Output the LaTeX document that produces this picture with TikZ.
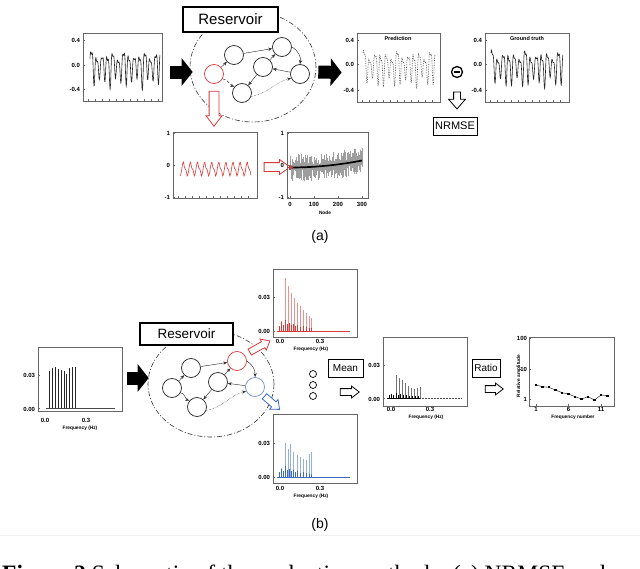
\documentclass[tikz,border=0pt]{standalone}
\usepackage{fontspec}
\setmainfont{Liberation Sans}
\newfontfamily\capfont{Liberation Serif}
\usetikzlibrary{shapes.geometric,shapes.arrows,arrows.meta,calc}
\definecolor{myred}{HTML}{D83A3A}
\definecolor{myblue}{HTML}{3D6BC4}
\definecolor{nodeblue}{HTML}{6F93D3}
\begin{document}
\begin{tikzpicture}[x=1pt,y=-1pt,
  frame/.style={draw=black!60, line width=0.6pt, fill=white, inner sep=0pt},
  tk/.style={font=\bfseries\fontsize{6}{6}\selectfont, anchor=east, inner sep=0.8pt},
  xt/.style={font=\bfseries\fontsize{6}{6}\selectfont, inner sep=0pt},
  axl/.style={font=\bfseries\fontsize{4.8}{5}\selectfont, inner sep=0pt},
  ttl/.style={font=\bfseries\fontsize{5.5}{6}\selectfont, inner sep=0pt},
  tline/.style={black!60, line width=0.4pt},
  neuron/.style={circle, draw=black!85, line width=0.75pt, minimum size=19pt, inner sep=0pt, fill=white},
  resbox/.style={draw, line width=1.3pt, fill=white, inner sep=0pt},
  resell/.style={ellipse, draw=black!80, line width=0.6pt, dash pattern=on 5pt off 2pt on 1pt off 2pt, inner sep=0pt},
  link/.style={-{Stealth[length=4pt,width=3.2pt]}, line width=0.45pt, black!80},
  bigarrow/.style={line width=13pt, -{Triangle[length=11pt,width=27pt]}},
  hollow/.style={single arrow, draw, line width=0.8pt, fill=white, inner xsep=0pt, single arrow head indent=0pt},
  lbox/.style={draw, line width=0.8pt, fill=white, inner sep=0pt},
]
\useasboundingbox (0,0) rectangle (640,568);

%% ================= (a) =================
% input plot
\node[frame, minimum width=79pt, minimum height=68pt] (inA) at (122.5,67) {};
\node[tk] at (81,40) {0.4};
\node[tk] at (81,65) {0.0};
\node[tk] at (81,89) {-0.4};
\foreach \y in {40,65,89} \draw[tline] (83,\y) -- ++(2,0);
\foreach \x in {88,95,...,158} \draw[tline] (\x,101) -- ++(0,-2);
\draw[line width=0.6pt, black!85] plot[domain=0:1, samples=300]
  ({90+70*\x}, {66-22*(0.7*sin(4700*\x)+0.3*sin(9400*\x+80)+0.15*sin(2300*\x+30))*(0.78+0.22*sin(1500*\x+40))});

% reservoir (a)
\node[resell, minimum width=126pt, minimum height=110pt] (resA) at (253,67) {};
\node[resbox, minimum width=95pt, minimum height=25pt, font=\fontsize{15}{15}\selectfont] (labA) at (230.5,19.5) {Reservoir};
\node[neuron, draw=myred] (rA) at (214,74) {};
\node[neuron] (n1) at (234,55) {};
\node[neuron] (n2) at (282,47) {};
\node[neuron] (n3) at (263,67) {};
\node[neuron] (n4) at (300,74) {};
\node[neuron] (n5) at (242,93) {};
\draw[link] (rA) -- (n1);
\draw[link] (n1) -- (n2);
\draw[link] (n2.east) to[bend left=35] (n4.north);
\draw[link] (n4) -- (n3);
\draw[link] (n3) -- (n2);
\draw[link, densely dashed] (rA.-30) to[out=0,in=160] (n5.140);
\draw[link] (n3) -- (n5);
\draw[link, densely dotted] (n5.-20) to[out=10,in=195] (n4.205);

\draw[bigarrow] ($(inA.east)+(8,5)$) -- ($(resA.west)+(3,5)$);

% prediction and ground truth
\node[frame, minimum width=83pt, minimum height=69pt] (predA) at (398.5,67.5) {};
\node[ttl] at (398,39) {Prediction};
\node[tk] at (355,40) {0.4};
\node[tk] at (355,64) {0.0};
\node[tk] at (355,90) {-0.4};
\foreach \y in {40,64,90} \draw[tline] (357,\y) -- ++(2,0);
\foreach \x in {362,369,...,436} \draw[tline] (\x,102) -- ++(0,-2);
\draw[line width=0.7pt, black!65, densely dotted] plot[domain=0:1, samples=300]
  ({363+72*\x}, {66-22*(0.7*sin(4700*\x+15)+0.3*sin(9400*\x+100)+0.15*sin(2300*\x+50))*(0.78+0.22*sin(1500*\x+90))});

\node[frame, minimum width=84pt, minimum height=69pt] (gtA) at (527,67.5) {};
\node[ttl] at (527,39) {Ground truth};
\node[tk] at (483,40) {0.4};
\node[tk] at (483,64) {0.0};
\node[tk] at (483,90) {-0.4};
\foreach \y in {40,64,90} \draw[tline] (485,\y) -- ++(2,0);
\foreach \x in {490,497,...,565} \draw[tline] (\x,102) -- ++(0,-2);
\draw[line width=0.6pt, black!85] plot[domain=0:1, samples=300]
  ({491+72*\x}, {66-22*(0.7*sin(4700*\x+15)+0.3*sin(9400*\x+100)+0.15*sin(2300*\x+50))*(0.78+0.22*sin(1500*\x+90))});

\draw[bigarrow] ($(resA.east)+(2,5)$) -- ($(predA.west)+(-15,5)$);

% minus, arrow, NRMSE
\node[circle, draw, line width=1.3pt, minimum size=11pt, inner sep=0pt] (minus) at (457,72) {};
\draw[line width=2.2pt] ($(minus.center)+(-3,0)$) -- ($(minus.center)+(3,0)$);
\node[lbox, minimum width=44pt, minimum height=18pt, font=\fontsize{11}{11}\selectfont] (nrmse) at (455,126) {NRMSE};
\node[hollow, minimum height=17pt, inner ysep=3pt, single arrow head extend=5pt, single arrow tip angle=82, rotate=-90] (darr) at (457,98.5) {};

% red down arrow
\node[hollow, draw=myred, minimum height=35pt, inner ysep=4.5pt, single arrow head extend=3pt, single arrow tip angle=74, rotate=-90] (rdown) at (214,105.5) {};

% red signal plot
\node[frame, minimum width=84pt, minimum height=66pt] (sigA) at (215,165) {};
\node[tk] at (171,133) {1};
\node[tk] at (171,165) {0};
\node[tk] at (171,197) {-1};
\foreach \y in {133,165,197} \draw[tline] (173,\y) -- ++(2,0);
\foreach \x in {178,185,...,252} \draw[tline] (\x,198) -- ++(0,-2);
\draw[myred, line width=0.6pt] plot[domain=0:1, samples=400]
  ({180+71*\x}, {169-7*asin(sin(3600*\x-90))/90+1.5*sin(7200*\x)});

% red right arrow
\node[hollow, draw=myred, minimum height=26pt, inner ysep=4pt, single arrow head extend=3pt, single arrow tip angle=70] (rright) at (274,167) {};

% node plot
\node[frame, minimum width=81pt, minimum height=66pt] (nodeA) at (327.5,165) {};
\node[tk] at (285,133) {1};
\node[tk] at (285,165) {0};
\node[tk] at (285,197) {-1};
\foreach \y in {133,165,197} \draw[tline] (287,\y) -- ++(2,0);
\foreach \x/\l in {290/0,314/100,338/200,362/300} {
  \draw[tline] (\x,198) -- ++(0,-2);
  \node[xt] at (\x,204) {\l};
}
\node[axl] at (325,213) {Node};
\pgfmathsetseed{7}
\foreach \i in {0,...,143} {
  \pgfmathsetmacro\xx{290.5+0.5*\i}
  \pgfmathsetmacro\cc{167.5-7*(\i/143)^2}
  \pgfmathsetmacro\up{\cc-2-12*rnd^1.5}
  \pgfmathsetmacro\dn{\cc+2+12*rnd^1.5}
  \draw[black!38, line width=0.28pt] (\xx,\up) -- (\xx,\dn);
}
\draw[line width=1.7pt] plot[domain=0:1, samples=30] ({290+72*\x},{167.5-7*\x*\x});
\draw[myred, line width=1.1pt] (287.5,167.5) -- (292.5,167.5) (290,165) -- (290,170);

\node[font=\fontsize{14}{14}\selectfont, inner sep=0pt] (capa) at (320,237) {(a)};

%% ================= (b) =================
% input spectrum
\node[frame, minimum width=84pt, minimum height=64pt] (inB) at (80,379) {};
\node[tk] at (36,375) {0.03};
\node[tk] at (36,409) {0.00};
\foreach \y in {375,408} \draw[tline] (38,\y) -- ++(2,0);
\node[xt] at (45,420) {0.0};
\node[xt] at (86,420) {0.3};
\node[axl] at (80,428) {Frequency (Hz)};
\draw[black!70, line width=0.4pt] (46,408) -- (115,408);
\foreach \x/\t in {49/371,52/368,55/367,58/369,61/370,64/371,66.5/374,69/368,72/367,75/367}
  \draw[black!85, line width=0.7pt] (\x,408) -- (\x,\t);

% reservoir (b)
\node[resell, minimum width=126pt, minimum height=106pt] (resB) at (211,384) {};
\node[resbox, minimum width=93pt, minimum height=22pt, font=\fontsize{13.5}{14}\selectfont] (labB) at (186.5,334) {Reservoir};
\node[neuron] (a1) at (172,388) {};
\node[neuron] (b1) at (191,368) {};
\node[neuron] (c1) at (197,407) {};
\node[neuron] (d1) at (218,382) {};
\node[neuron, draw=myred] (rB) at (237,361) {};
\node[neuron, draw=nodeblue] (bB) at (255,387) {};
\draw[link] (a1) -- (b1);
\draw[link] (b1) -- (rB);
\draw[link] (rB.east) to[bend left=30] (bB.north);
\draw[link] (bB) -- (d1);
\draw[link] (d1) -- (rB);
\draw[link] (a1.-30) to[out=0,in=160] (c1.140);
\draw[link] (d1) -- (c1);
\draw[link, densely dotted] (c1.-20) to[out=10,in=195] (bB.205);

\draw[bigarrow] ($(inB.east)+(5,-1)$) -- ($(resB.west)+(1,-6)$);

\node[hollow, draw=myred, minimum height=23pt, inner ysep=3pt, single arrow head extend=3pt, single arrow tip angle=80, rotate=29] (rup) at (258,347.5) {};
\node[hollow, draw=myblue, minimum height=20pt, inner ysep=3pt, single arrow head extend=3pt, single arrow tip angle=80, rotate=-41] (bdn) at (270.5,401.5) {};

% red spectrum
\node[frame, minimum width=84pt, minimum height=68pt] (redS) at (315,303) {};
\node[tk] at (271,297) {0.03};
\node[tk] at (271,331) {0.00};
\foreach \y in {297,331} \draw[tline] (273,\y) -- ++(2,0);
\node[xt] at (280,341) {0.0};
\node[xt] at (320,341) {0.3};
\node[axl] at (311,349) {Frequency (Hz)};
\draw[myred, line width=0.5pt] (277,331) -- (350,331);
\foreach \x/\t in {281/321,285/278,288/286,291/293,294/298,297/303,300/306,303/310,306/313,309/316,311/318}
  \draw[myred!55, line width=0.8pt] (\x,331) -- (\x,\t);
\foreach \x/\t in {279/326,281/322,283/325,285/320,287/324,289/323,291/325,293/324,295/326,297/325,300/327,303/326,306/327,309/328,311/328}
  \draw[myred, line width=0.5pt] (\x,331) -- (\x,\t);

% blue spectrum
\node[frame, minimum width=84pt, minimum height=69pt] (blueS) at (315,448.5) {};
\node[tk] at (271,443) {0.03};
\node[tk] at (271,477) {0.00};
\foreach \y in {443,477} \draw[tline] (273,\y) -- ++(2,0);
\node[xt] at (280,488) {0.0};
\node[xt] at (320,488) {0.3};
\node[axl] at (311,496) {Frequency (Hz)};
\draw[myblue, line width=0.5pt] (277,477) -- (350,477);
\foreach \x/\t in {281/468,285/443,288/449,290/444,293/452,297/455,300/457,303/459,306/460,309/454,311/452}
  \draw[myblue!55, line width=0.8pt] (\x,477) -- (\x,\t);
\foreach \x/\t in {279/472,281/469,283/471,285/466,287/470,289/469,291/471,293/470,295/472,297/471,300/473,303/472,306/473,309/474,311/474}
  \draw[myblue, line width=0.5pt] (\x,477) -- (\x,\t);

% dots, Mean
\foreach \y [count=\k] in {374,385,396} \node[circle, draw, line width=0.7pt, minimum size=7pt, inner sep=0pt] (dot\k) at (313,\y) {};
\node[lbox, minimum width=35pt, minimum height=18pt, font=\fontsize{10}{10}\selectfont] (meanbox) at (345.5,368) {Mean};
\node[hollow, minimum height=19pt, inner ysep=3pt, single arrow head extend=2.5pt, single arrow tip angle=75] (marr) at (347.5,392) {};

% mean spectrum
\node[frame, minimum width=84pt, minimum height=69pt] (meanS) at (425,371.5) {};
\node[tk] at (381,365) {0.03};
\node[tk] at (381,399) {0.00};
\foreach \y in {365,398} \draw[tline] (383,\y) -- ++(2,0);
\node[xt] at (391,409) {0.0};
\node[xt] at (430,409) {0.3};
\node[axl] at (426,417) {Frequency (Hz)};
\draw[black!70, line width=0.5pt, densely dotted] (420,398) -- (462,398);
\draw[black, line width=0.5pt] (387,398) -- (420,398);
\foreach \x/\t in {396/375,399/378,402/380,405/383,408/386,411/388,414/389,417/388,420/387}
  \draw[black!55, line width=0.8pt] (\x,398) -- (\x,\t);
\foreach \x/\t in {389/395,391/394,393/395,396/393,398/395,400/394,403/395,406/395,409/396,412/396,415/396,418/396}
  \draw[black, line width=0.5pt] (\x,398) -- (\x,\t);

% Ratio
\node[lbox, minimum width=28pt, minimum height=18pt, font=\fontsize{10}{10}\selectfont] (ratiobox) at (486,368) {Ratio};
\node[hollow, minimum height=18pt, inner ysep=3pt, single arrow head extend=2.5pt, single arrow tip angle=75] (rarr) at (492,389) {};

% relative amplitude plot
\node[frame, minimum width=85pt, minimum height=69pt] (ratioP) at (571.5,371.5) {};
\node[tk] at (528,338) {100};
\node[tk] at (528,369) {10};
\node[tk] at (528,399) {1};
\foreach \y in {338,369,399} \draw[tline] (529,\y) -- ++(2,0);
\foreach \x/\l in {536/1,568.5/6,601/11} {
  \draw[tline] (\x,406) -- ++(0,-2);
  \node[xt] at (\x,409.5) {\l};
}
\node[axl, rotate=90] at (519,376) {Relative amplitude};
\node[axl] at (573,417) {Frequency number};
\draw[black!80, line width=0.5pt] plot coordinates {(536,385) (542.5,386.7) (549,387.3) (555.5,390) (562,392.7) (568.5,394) (575,396.7) (581.5,399) (588,396.7) (594.5,400) (601,395) (607.5,395.7)};
\foreach \x/\y in {536/385,542.5/386.7,549/387.3,555.5/390,562/392.7,568.5/394,575/396.7,581.5/399,588/396.7,594.5/400,601/395,607.5/395.7}
  \fill (\x-1.1,\y-1.1) rectangle ++(2.2,2.2);

\node[font=\fontsize{14}{14}\selectfont, inner sep=0pt] (capb) at (320,525) {(b)};

% faint page edge and caption
\draw[black!6, line width=0.5pt] (0,535) -- (640,535);
\begin{scope}
\clip (0,0) rectangle (640,568);
\node[anchor=base west, inner sep=0pt, font=\capfont\fontsize{23.5}{24}\selectfont] (caption) at (2,581) {\textbf{Figure 2} Schematic of the evaluation methods. (a) NRMSE and};
\end{scope}
\end{tikzpicture}
\end{document}
